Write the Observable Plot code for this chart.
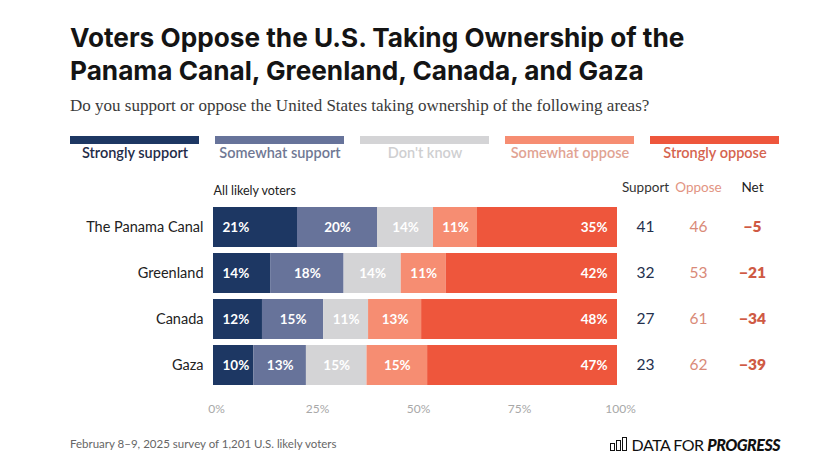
<!DOCTYPE html>
<html>
<head>
<meta charset="utf-8">
<script src="https://cdn.jsdelivr.net/npm/d3@7"></script>
<script src="https://cdn.jsdelivr.net/npm/@observablehq/plot@0.6"></script>
<style>
  html, body { margin: 0; padding: 0; background: #fff; }
  #root { position: relative; width: 830px; height: 466px; font-family: Lato, "Open Sans", sans-serif; overflow: hidden; }
  .abs { position: absolute; }
  #title { left: 70px; top: 21px; font-family: Inter, Lato, sans-serif; font-size: 26.2px; font-weight: 700; line-height: 33.4px; color: #141414; letter-spacing: 0px; white-space: nowrap; }
  #subtitle { left: 70px; top: 96px; font-family: "Liberation Serif", serif; font-size: 17px; color: #3a3a3a; white-space: nowrap; }
  #legend { left: 0; top: 130px; }
  #chart { left: 0; top: 170px; }
  #footer { left: 70px; top: 437px; font-size: 11.5px; color: #666; }
  #logo { right: 50px; top: 435px; font-size: 16px; letter-spacing: -0.5px; color: #111; display: flex; align-items: flex-end; gap: 5px; }
  #logo .icon { display: flex; align-items: flex-end; gap: 1px; height: 14px; margin-bottom: 3px; }
  #logo .icon span { display: block; width: 3px; border: 1px solid #111; }
  #logo b { font-style: italic; font-weight: 900; }
</style>
</head>
<body>
<div id="root">
  <div id="title" class="abs">Voters Oppose the U.S. Taking Ownership of the<br>Panama Canal, Greenland, Canada, and Gaza</div>
  <div id="subtitle" class="abs">Do you support or oppose the United States taking ownership of the following areas?</div>
  <div id="legend" class="abs"></div>
  <div id="chart" class="abs"></div>
  <div id="footer" class="abs">February 8–9, 2025 survey of 1,201 U.S. likely voters</div>
  <div id="logo" class="abs"><div class="icon"><span style="height:6px"></span><span style="height:9px"></span><span style="height:12px"></span></div><div>DATA FOR <b>PROGRESS</b></div></div>
</div>
<script>
// ---- data ----
const locations = ["The Panama Canal", "Greenland", "Canada", "Gaza"];
const categories = ["Strongly support", "Somewhat support", "Don't know", "Somewhat oppose", "Strongly oppose"];
const stronglySupport = [21, 14, 12, 10];
const somewhatSupport = [20, 18, 15, 13];
const dontKnow = [14, 14, 11, 15];
const somewhatOppose = [11, 11, 13, 15];
const stronglyOppose = [35, 42, 48, 47];
const supportTotal = [41, 32, 27, 23];
const opposeTotal = [46, 53, 61, 62];
const netTotal = [-5, -21, -34, -39];
const axisTicks = [0, 0.25, 0.5, 0.75, 1];
const groupLabel = "All likely voters";
const columnHeaders = ["Support", "Oppose", "Net"];

// ---- styles ----
const barColors = ["#1d3763", "#67739a", "#d4d4d6", "#f68d72", "#ee563c"];
const legendTextColors = ["#1f2c48", "#707894", "#cfcfd1", "#e1a393", "#d5644f"];

const series = [stronglySupport, somewhatSupport, dontKnow, somewhatOppose, stronglyOppose];
const rows = [];
locations.forEach((loc, i) => {
  categories.forEach((cat, j) => {
    rows.push({loc, cat, value: series[j][i]});
  });
});
const totals = locations.map((loc, i) => ({loc, support: supportTotal[i], oppose: opposeTotal[i], net: netTotal[i]}));
const fmtNet = v => (v < 0 ? "\u2212" + Math.abs(v) : String(v));

// ---- legend ----
const legend = Plot.plot({
  width: 830,
  height: 36,
  marginLeft: 70,
  marginRight: 50,
  marginTop: 6,
  marginBottom: 22,
  style: {fontFamily: "Lato, sans-serif", background: "transparent"},
  x: {type: "band", domain: categories, paddingInner: 0.11, paddingOuter: 0, axis: null},
  color: {domain: categories, range: barColors},
  marks: [
    Plot.cell(categories, {x: d => d, fill: d => d}),
    Plot.text(categories, {x: d => d, text: d => d, frameAnchor: "bottom", dy: 13,
      fill: (d) => legendTextColors[categories.indexOf(d)], fontSize: 14.5, fontWeight: 600})
  ]
});
document.getElementById("legend").appendChild(legend);

// ---- main chart ----
const stackOpts = {x: "value", y: "loc", z: "cat", order: categories, offset: "normalize"};
const headerY = () => locations[0];
const chart = Plot.plot({
  width: 830,
  height: 250,
  marginLeft: 213,
  marginRight: 213,
  marginTop: 36,
  marginBottom: 33,
  style: {fontFamily: "Lato, sans-serif", background: "transparent", overflow: "visible"},
  x: {domain: [0, 1]},
  y: {domain: locations, paddingInner: 0.13, paddingOuter: 0},
  color: {domain: categories, range: barColors},
  marks: [
    Plot.barX(rows, Plot.stackX({...stackOpts, fill: "cat"})),
    Plot.text(rows, Plot.stackX1({...stackOpts, text: d => d.cat === categories[0] ? d.value + "%" : null,
      textAnchor: "start", dx: 9, fill: "white", fontSize: 13.5, fontWeight: 700})),
    Plot.text(rows, Plot.stackX({...stackOpts, text: d => (d.cat !== categories[0] && d.cat !== categories[4]) ? d.value + "%" : null,
      fill: "white", fontSize: 13.5, fontWeight: 700})),
    Plot.text(rows, Plot.stackX2({...stackOpts, text: d => d.cat === categories[4] ? d.value + "%" : null,
      textAnchor: "end", dx: -10, fill: "white", fontSize: 13.5, fontWeight: 700})),
    Plot.axisX({ticks: axisTicks, tickFormat: d3.format(".0%"), tickSize: 0, tickPadding: 17, fontSize: 12, color: "#a8a8a8", label: null, dx: 3}),
    Plot.axisY({tickSize: 0, tickPadding: 10, fontSize: 14.5, color: "#222", label: null}),
    Plot.text([groupLabel], {x: () => 0, y: headerY, text: d => d, textAnchor: "start", dy: -37, fontSize: 12.5, fill: "#222"}),
    Plot.text([columnHeaders[0]], {x: () => 1, y: headerY, text: d => d, dx: 28, dy: -40, fontSize: 13.5, fill: "#333"}),
    Plot.text([columnHeaders[1]], {x: () => 1, y: headerY, text: d => d, dx: 81, dy: -40, fontSize: 13.5, fill: "#e29482"}),
    Plot.text([columnHeaders[2]], {x: () => 1, y: headerY, text: d => d, dx: 135, dy: -40, fontSize: 13.5, fill: "#222"}),
    Plot.text(totals, {x: () => 1, y: "loc", text: "support", dx: 28, fontSize: 15.5, fill: "#23304d"}),
    Plot.text(totals, {x: () => 1, y: "loc", text: "oppose", dx: 81, fontSize: 15.5, fill: "#d98a78"}),
    Plot.text(totals, {x: () => 1, y: "loc", text: d => fmtNet(d.net), dx: 135, fontSize: 15.5, fontWeight: 800, fill: "#cf5a44"})
  ]
});
document.getElementById("chart").appendChild(chart);
</script>
</body>
</html>
